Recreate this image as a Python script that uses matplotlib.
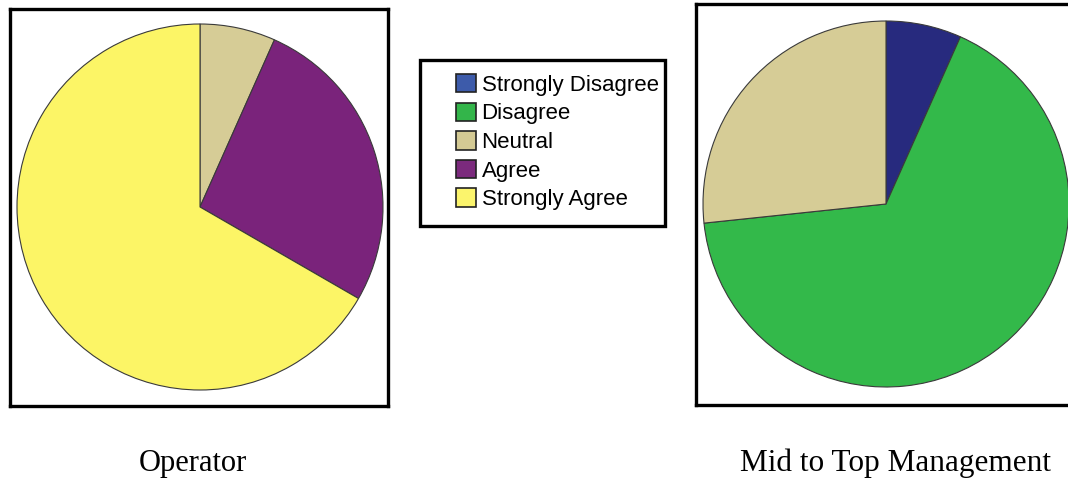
import matplotlib
matplotlib.use("Agg")
import matplotlib.pyplot as plt
from matplotlib.patches import Patch, Rectangle

categories = ["Strongly Disagree", "Disagree", "Neutral", "Agree", "Strongly Agree"]
operator = [0, 0, 1, 4, 10]
management = [1, 10, 4, 0, 0]
titles = ["Operator", "Mid to Top Management"]

pie_colors = ["#272A7E", "#33B94A", "#D6CC96", "#7A237B", "#FCF566"]
legend_colors = ["#3D5BAA", "#33B54A", "#D4CA94", "#7B2A7D", "#FBF46C"]

W, H = 1068, 480
fig = plt.figure(figsize=(W / 100, H / 100), dpi=100)


def px_axes(x0, y0, x1, y1):
    return fig.add_axes([x0 / W, 1 - y1 / H, (x1 - x0) / W, (y1 - y0) / H])


def draw_pie(ax, values, box, center, r):
    vals = [v for v in values if v > 0]
    cols = [c for v, c in zip(values, pie_colors) if v > 0]
    ax.pie(vals, colors=cols, startangle=90, counterclock=False,
           wedgeprops=dict(edgecolor="#3a3a3a", linewidth=0.8))
    x0, y0, x1, y1 = box
    cx, cy = center
    ax.set_aspect("auto")
    ax.set_xlim(-(cx - x0) / r, (x1 - cx) / r)
    ax.set_ylim(-(y1 - cy) / r, (cy - y0) / r)
    ax.set_frame_on(True)
    for s in ax.spines.values():
        s.set_linewidth(2.4)
        s.set_edgecolor("black")
    ax.set_xticks([])
    ax.set_yticks([])


box1 = (10, 9, 388, 406)
ax1 = px_axes(*box1)
draw_pie(ax1, operator, box1, (200, 207), 183)

box2 = (696, 4, 1090, 405)
ax2 = px_axes(*box2)
draw_pie(ax2, management, box2, (886, 204), 183)

# legend frame
fig.patches.append(Rectangle((420 / W, 1 - 226 / H), 245 / W, 166 / H,
                             transform=fig.transFigure, fill=False,
                             edgecolor="black", linewidth=2.4))
handles = [Patch(facecolor=c, edgecolor="#222222", linewidth=1.2) for c in legend_colors]
fig.legend(handles, categories, loc="upper left",
           bbox_to_anchor=(456 / W, 1 - 74 / H), frameon=False,
           prop=dict(family="Liberation Sans", size=16),
           borderpad=0, borderaxespad=0, handlelength=0.9, handleheight=0.9,
           handletextpad=0.25, labelspacing=0.3)

fig.text(193 / W, 1 - 463 / H, titles[0], ha="center", va="center",
         family="Liberation Serif", size=22)
fig.text(895 / W, 1 - 463 / H, titles[1], ha="center", va="center",
         family="Liberation Serif", size=22.5)

fig.savefig("out.png", dpi=100, facecolor="white")
